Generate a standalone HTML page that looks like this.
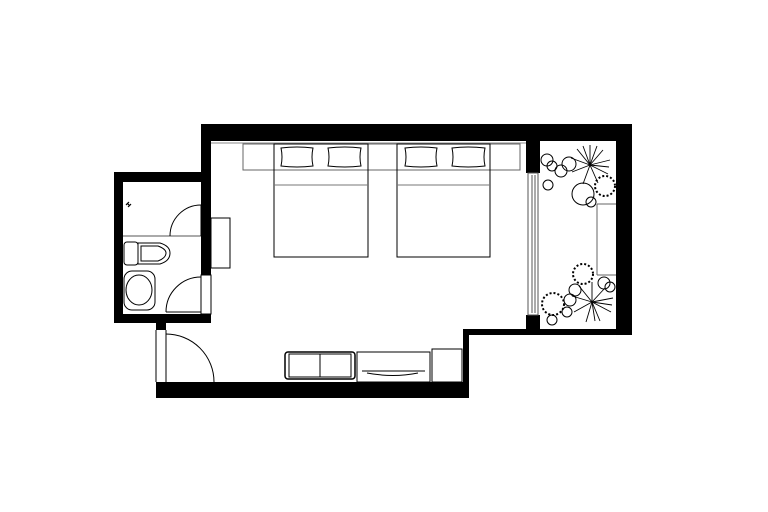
<!DOCTYPE html>
<html><head><meta charset="utf-8"><style>html,body{margin:0;padding:0;background:#fff;width:768px;height:512px;overflow:hidden}</style></head>
<body>
<svg width="768" height="512" viewBox="0 0 768 512" xmlns="http://www.w3.org/2000/svg">
<g fill="#000">
<!-- main top wall -->
<rect x="201" y="124" width="431" height="17"/>
<!-- main left wall -->
<rect x="201" y="124" width="10" height="151"/>
<!-- bathroom -->
<rect x="114" y="172" width="97" height="10"/>
<rect x="114" y="172" width="9" height="151"/>
<rect x="114" y="314" width="97" height="9"/>
<rect x="156" y="323" width="10" height="7"/>
<!-- bottom wall -->
<rect x="156" y="382" width="313" height="16"/>
<rect x="463" y="329" width="6" height="69"/>
<rect x="463" y="329" width="169" height="6"/>
<!-- room/balcony wall -->
<rect x="526" y="124" width="14" height="49"/>
<rect x="526" y="315" width="14" height="20"/>
<!-- right wall -->
<rect x="616" y="124" width="16" height="211"/>
</g>
<g fill="none" stroke="#000" stroke-width="1">
<!-- bathroom internals -->
<line x1="123" y1="236" x2="201" y2="236" stroke="#555"/>
<path d="M170 236 A31 31 0 0 1 201 205"/>
<line x1="201" y1="205" x2="201" y2="236"/>
<rect x="124" y="242" width="14" height="23" rx="3"/>
<path d="M138 243 L160 243 Q170 246 170 253 Q170 261 160 264 L138 264 Z"/>
<path d="M141 246 L158 246 Q166 249 166 253 Q166 258 158 261 L141 261 Z"/>
<rect x="124" y="271" width="31" height="39" rx="8"/>
<ellipse cx="139" cy="290" rx="13" ry="15"/>
<path d="M166 312 A35 35 0 0 1 201 277"/>
<line x1="166" y1="312" x2="201" y2="312"/>
<rect x="201" y="275" width="10" height="39"/>
<path d="M126 205 l3 -3 m-1 5 l3 -3 m-4 -1 l3 3" stroke-width="1.2"/>
<!-- entry door -->
<line x1="156" y1="330" x2="156" y2="382"/>
<line x1="166" y1="330" x2="166" y2="382"/>
<path d="M166 334 A48 48 0 0 1 214 382"/>
<!-- desk -->
<rect x="211" y="218" width="19" height="50"/>
<!-- headboard -->
<rect x="243" y="144" width="277" height="26" stroke="#666"/>
<line x1="211" y1="143" x2="526" y2="143" stroke="#888"/>
<!-- beds -->
<rect x="274" y="144" width="94" height="113"/>
<line x1="274" y1="185" x2="368" y2="185" stroke="#777"/>
<rect x="397" y="144" width="93" height="113"/>
<line x1="397" y1="185" x2="490" y2="185" stroke="#777"/>
<path d="M281 148 Q297 146 313 148 Q311 157 313 166 Q297 168 281 166 Q283 157 281 148Z"/>
<path d="M328 148 Q345 146 361 148 Q359 157 361 166 Q345 168 328 166 Q330 157 328 148Z"/>
<path d="M405 148 Q421 146 437 148 Q435 157 437 166 Q421 168 405 166 Q407 157 405 148Z"/>
<path d="M452 148 Q468 146 485 148 Q483 157 485 166 Q468 168 452 166 Q454 157 452 148Z"/>
<!-- window -->
<rect x="528" y="173" width="10" height="142" stroke="#555"/>
<line x1="532" y1="175" x2="532" y2="313" stroke="#555"/>
<line x1="535" y1="175" x2="535" y2="313" stroke="#555"/>
<!-- sofa -->
<rect x="285" y="352" width="70" height="27" rx="3" stroke-width="1.5"/>
<rect x="289" y="354" width="62" height="23"/>
<line x1="320" y1="354" x2="320" y2="377"/>
<!-- tv console -->
<rect x="357" y="352" width="73" height="30"/>
<line x1="362" y1="371" x2="425" y2="371"/>
<path d="M367 373 Q393 378 418 373"/>
<rect x="432" y="349" width="30" height="33"/>
<!-- balcony planter -->
<line x1="597" y1="204" x2="597" y2="275" stroke="#666"/>
<line x1="597" y1="204" x2="616" y2="204" stroke="#666"/>
<line x1="597" y1="275" x2="616" y2="275" stroke="#666"/>
<!-- plants top -->
<circle cx="547" cy="160" r="6"/><circle cx="552" cy="166" r="5"/><circle cx="561" cy="171" r="6"/><circle cx="569" cy="164" r="7"/><circle cx="548" cy="185" r="5"/>
<circle cx="583" cy="194" r="11"/><circle cx="591" cy="202" r="5"/>
<circle cx="605" cy="186" r="10" stroke-dasharray="2 2" stroke-width="2"/>
<g stroke-width="0.9">
<line x1="590" y1="165" x2="590" y2="145"/><line x1="590" y1="165" x2="603" y2="150"/><line x1="590" y1="165" x2="610" y2="160"/><line x1="590" y1="165" x2="608" y2="174"/><line x1="590" y1="165" x2="598" y2="183"/><line x1="590" y1="165" x2="583" y2="184"/><line x1="590" y1="165" x2="572" y2="172"/><line x1="590" y1="165" x2="571" y2="158"/><line x1="590" y1="165" x2="577" y2="149"/><line x1="590" y1="165" x2="583" y2="146"/><line x1="590" y1="165" x2="597" y2="146"/><line x1="590" y1="165" x2="609" y2="167"/>
</g>
<!-- plants bottom -->
<circle cx="583" cy="274" r="10" stroke-dasharray="2 2" stroke-width="2"/>
<circle cx="553" cy="304" r="11" stroke-dasharray="2 2" stroke-width="2"/>
<circle cx="570" cy="300" r="6"/><circle cx="575" cy="290" r="6"/><circle cx="567" cy="312" r="5"/><circle cx="552" cy="320" r="5"/>
<circle cx="604" cy="283" r="6"/><circle cx="610" cy="287" r="5"/>
<g stroke-width="0.9">
<line x1="592" y1="302" x2="592" y2="282"/><line x1="592" y1="302" x2="605" y2="288"/><line x1="592" y1="302" x2="613" y2="298"/><line x1="592" y1="302" x2="611" y2="312"/><line x1="592" y1="302" x2="600" y2="321"/><line x1="592" y1="302" x2="586" y2="322"/><line x1="592" y1="302" x2="574" y2="312"/><line x1="592" y1="302" x2="572" y2="296"/><line x1="592" y1="302" x2="579" y2="286"/><line x1="592" y1="302" x2="612" y2="305"/><line x1="592" y1="302" x2="595" y2="321"/>
</g>
</g>
</svg>
</body></html>
